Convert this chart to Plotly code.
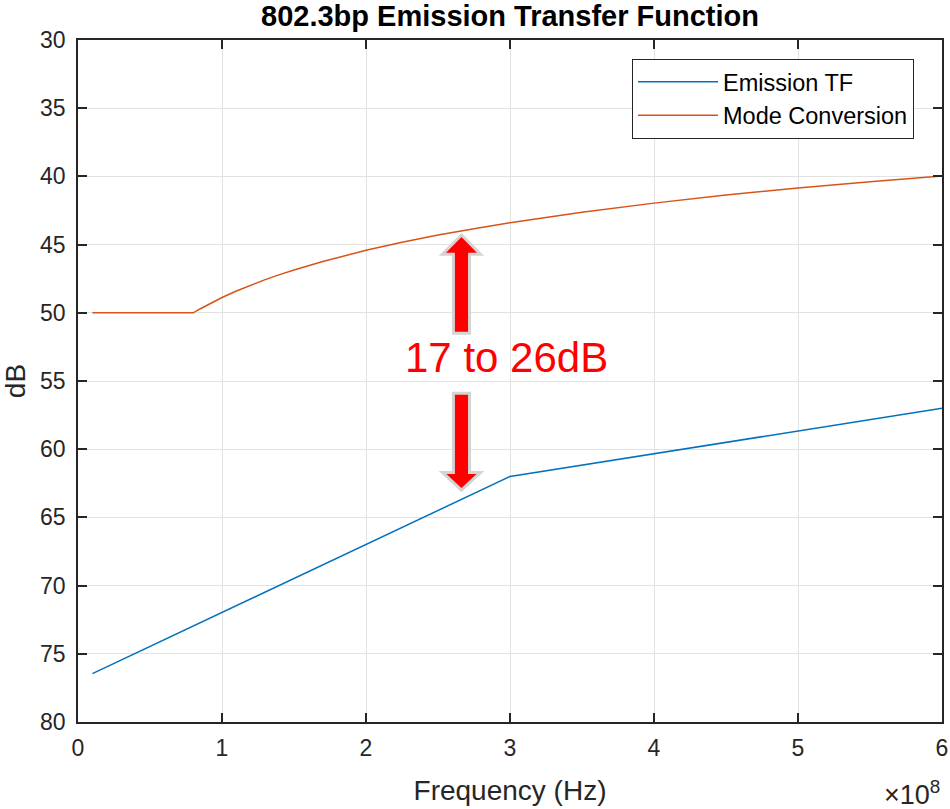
import plotly.graph_objects as go

# ---- data ----
emis_f = [0.1e8, 3.0e8, 6.0e8]
emis_db = [76.45, 62.0, 57.0]

mode_f = [0.1e8, 0.8e8, 0.85e8, 0.9e8, 0.95e8, 1.0e8, 1.1e8, 1.2e8, 1.3e8, 1.4e8,
          1.5e8, 1.7e8, 2.0e8, 2.25e8, 2.5e8, 2.75e8, 3.0e8, 3.5e8, 4.0e8,
          4.5e8, 5.0e8, 5.5e8, 6.0e8]
mode_db = [50.0, 50.0, 49.7, 49.41, 49.14, 48.88, 48.4, 47.97, 47.57, 47.2,
           46.86, 46.24, 45.42, 44.83, 44.3, 43.83, 43.4, 42.63, 41.96,
           41.37, 40.85, 40.4, 39.97]

x_ticks = [0, 1e8, 2e8, 3e8, 4e8, 5e8, 6e8]
x_ticktext = ["0", "1", "2", "3", "4", "5", "6"]
y_ticks = [30, 35, 40, 45, 50, 55, 60, 65, 70, 75, 80]

BLUE = "#0072BD"
ORANGE = "#D95319"
FONT = "Liberation Sans, Arial, sans-serif"
TXT = "#262626"

fig = go.Figure()
fig.add_trace(go.Scatter(x=emis_f, y=emis_db, mode="lines", name="Emission TF",
                         line=dict(color=BLUE, width=1.5)))
fig.add_trace(go.Scatter(x=mode_f, y=mode_db, mode="lines", name="Mode Conversion",
                         line=dict(color=ORANGE, width=1.5)))

# ---- block arrows (annotation graphics) ----
xc = 2.663e8
hw = 0.132e8   # head half width
sw = 0.056e8   # shaft half width
up = (f"M {xc},44.3 L {xc+hw},45.7 L {xc+sw},45.7 L {xc+sw},51.5 "
      f"L {xc-sw},51.5 L {xc-sw},45.7 L {xc-hw},45.7 Z")
down = (f"M {xc},63.0 L {xc+hw},61.7 L {xc+sw},61.7 L {xc+sw},55.9 "
        f"L {xc-sw},55.9 L {xc-sw},61.7 L {xc-hw},61.7 Z")
for p in (up, down):
    fig.add_shape(type="path", path=p, xref="x", yref="y",
                  fillcolor="#ff0000", line=dict(color="#d4d4d4", width=3),
                  layer="above")

fig.add_annotation(x=(506-78)/864, y=1-(357-40)/682, xref="paper", yref="paper",
                   text="17 to 26dB", showarrow=False,
                   font=dict(family=FONT, size=42, color="#ff0000"))

fig.add_annotation(x=1.0, y=1-(793-40)/682, xref="paper", yref="paper",
                   xanchor="right", yanchor="middle",
                   text="×10<sup>8</sup>", showarrow=False,
                   font=dict(family=FONT, size=27, color=TXT))

axis_common = dict(showline=True, linecolor=TXT, linewidth=1.5, mirror="ticks",
                   ticks="inside", ticklen=9, tickcolor=TXT, tickwidth=1.5,
                   showgrid=True, gridcolor="#e3e3e3", gridwidth=1, zeroline=False,
                   automargin=False,
                   tickfont=dict(family=FONT, size=23, color=TXT))

fig.update_layout(
    width=950, height=809,
    margin=dict(l=78, r=8, t=40, b=87),
    paper_bgcolor="white", plot_bgcolor="white",
    title=dict(text="<b>802.3bp Emission Transfer Function</b>",
               x=510/950, xanchor="center", y=1-16/809, yanchor="middle",
               font=dict(family=FONT, size=29, color="black")),
    xaxis=dict(range=[0, 6e8], tickvals=x_ticks, ticktext=x_ticktext,
               ticklabelstandoff=5,
               title=dict(text="Frequency (Hz)", standoff=20,
                          font=dict(family=FONT, size=28, color=TXT)),
               **axis_common),
    yaxis=dict(range=[80, 30], tickvals=y_ticks, ticklabelstandoff=6,
               title=dict(text="dB", standoff=11,
                          font=dict(family=FONT, size=28, color=TXT)),
               **axis_common),
    legend=dict(x=(632-78)/864, y=1-(59-40)/682, xanchor="left", yanchor="top",
                bgcolor="white", bordercolor=TXT, borderwidth=1,
                font=dict(family=FONT, size=23.5, color="black"),
                itemwidth=80, tracegroupgap=0),
    showlegend=True,
)

fig.write_html("out.html")
